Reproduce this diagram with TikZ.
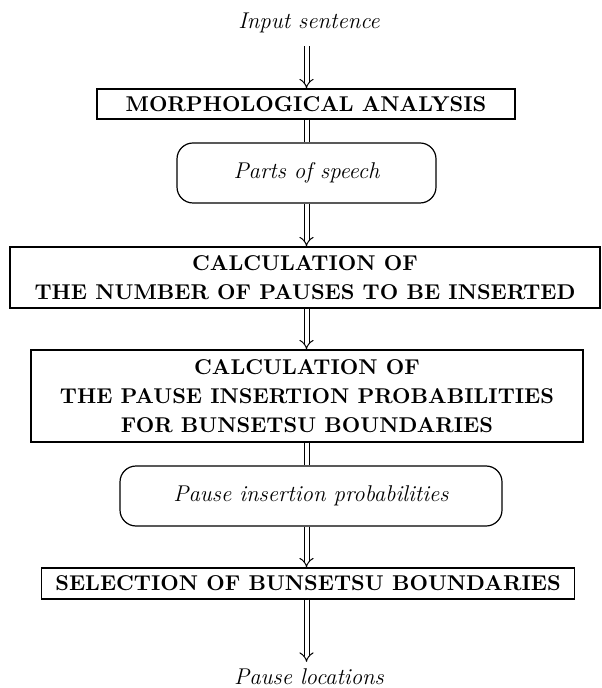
\documentclass[tikz,border=0pt]{standalone}
\usepackage{fontspec}
\usetikzlibrary{arrows.meta}

\tikzset{
  proc/.style={draw, line width=0.6pt, align=center, inner xsep=12pt, inner ysep=0pt,
    font=\fontsize{10.7}{14.5}\selectfont\bfseries},
  datum/.style={draw, line width=0.6pt, rounded corners=8pt,
    font=\fontsize{11.4}{14}\selectfont\itshape},
  term/.style={font=\fontsize{11.4}{14}\selectfont\itshape},
  flow/.style={double, double distance=2pt, line width=0.5pt, -Implies},
  link/.style={double, double distance=2pt, line width=0.5pt},
}

\begin{document}
\begin{tikzpicture}[x=0.5pt, y=-0.5pt]
\useasboundingbox (0,0) rectangle (601,688);

\node[term] (in) at (309,23) {Input sentence};
\node[proc, minimum width=209pt, minimum height=15pt] (morph) at (306,104) {MORPHOLOGICAL ANALYSIS};
\node[datum, minimum width=129.5pt, minimum height=30pt] (pos) at (306.5,173) {Parts of speech};
\node[proc, minimum width=295pt, minimum height=30.5pt, inner xsep=8pt] (num) at (305,277.5)
  {CALCULATION OF\\THE NUMBER OF PAUSES TO BE INSERTED};
\node[proc, minimum width=276pt, minimum height=46pt] (prob) at (307,396)
  {CALCULATION OF\\THE PAUSE INSERTION PROBABILITIES\\FOR BUNSETSU BOUNDARIES};
\node[datum, minimum width=191pt, minimum height=30pt] (pip) at (311,496) {Pause insertion probabilities};
\node[proc, minimum height=15.5pt, inner xsep=7pt] (sel) at (308,583.5) {SELECTION OF BUNSETSU BOUNDARIES};
\node[term] (out) at (309,677) {Pause locations};

% data flow
\draw[flow, shorten <=3pt] (in.south -| pos.south) -- (pos.south |- morph.north);
\draw[link] (morph.south -| pos.south) -- (pos.south |- pos.north);
\draw[flow] (pos.south) -- (pos.south |- num.north);
\draw[flow] (num.south -| pos.south) -- (pos.south |- prob.north);
\draw[link] (prob.south -| pos.south) -- (pos.south |- pip.north);
\draw[flow] (pip.south -| pos.south) -- (pos.south |- sel.north);
\draw[flow] (sel.south -| pos.south) -- (pos.south |- out.north);
\end{tikzpicture}
\end{document}
